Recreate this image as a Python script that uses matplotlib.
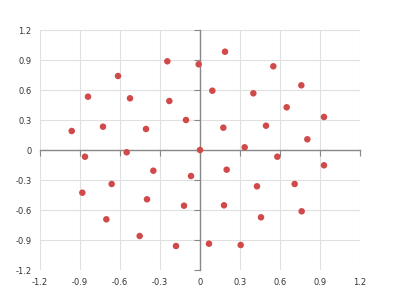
import numpy as np
import matplotlib.pyplot as plt

# scatter points
xs = [-0.962, -0.8625, -0.84, -0.7275, -0.615, -0.525, -0.55, -0.405, -0.245, -0.23,
      -0.105, -0.01, 0.0, 0.1875, 0.55, 0.0925, 0.40, 0.76, 0.65, 0.93,
      0.175, 0.495, 0.805, 0.335, 0.58, -0.35, -0.0675, -0.6625, -0.8825, -0.3975,
      -0.12, -0.7025, -0.4525, -0.18, 0.93, 0.2, 0.71, 0.4275, 0.18, 0.7625,
      0.4575, 0.0675, 0.305]
ys = [0.19, -0.067, 0.533, 0.233, 0.74, 0.517, -0.023, 0.21, 0.887, 0.49,
      0.30, 0.857, 0.0, 0.983, 0.837, 0.593, 0.567, 0.647, 0.427, 0.33,
      0.223, 0.243, 0.107, 0.027, -0.067, -0.207, -0.26, -0.34, -0.427, -0.493,
      -0.557, -0.693, -0.86, -0.96, -0.153, -0.197, -0.34, -0.363, -0.553, -0.613,
      -0.673, -0.937, -0.95]
ticks = [-1.2, -0.9, -0.6, -0.3, 0, 0.3, 0.6, 0.9, 1.2]
tick_labels = ['-1.2', '-0.9', '-0.6', '-0.3', '0', '0.3', '0.6', '0.9', '1.2']

fig = plt.figure(figsize=(4, 3), dpi=100)
rect = [0.1, 0.1, 0.8, 0.8]
ax = fig.add_axes(rect)
ax.set_xlim(-1.2, 1.2)
ax.set_ylim(-1.2, 1.2)
ax.set_xticks(ticks)
ax.set_yticks(ticks)
ax.grid(color='#e0e0e0', linewidth=0.8)
ax.set_axisbelow(True)
for s in ['top', 'right']:
    ax.spines[s].set_visible(False)
for s in ['left', 'bottom']:
    ax.spines[s].set_position(('data', 0))
    ax.spines[s].set_color('#888888')
    ax.spines[s].set_linewidth(1)
ax.tick_params(length=4, width=0.8, color='#888888', direction='out',
               labelleft=False, labelbottom=False)

ax.scatter(xs, ys, s=22, color='#d14a4a', edgecolors='none', zorder=3)

# labels along the outer edges
lab = fig.add_axes(rect, frameon=False, sharex=ax, sharey=ax)
lab.patch.set_visible(False)
lab.set_xticks(ticks)
lab.set_yticks(ticks)
lab.set_xticklabels(tick_labels)
lab.set_yticklabels(tick_labels)
lab.tick_params(length=0, pad=6, labelsize=6, labelcolor='#333333')

fig.savefig('out.png', dpi=100)
